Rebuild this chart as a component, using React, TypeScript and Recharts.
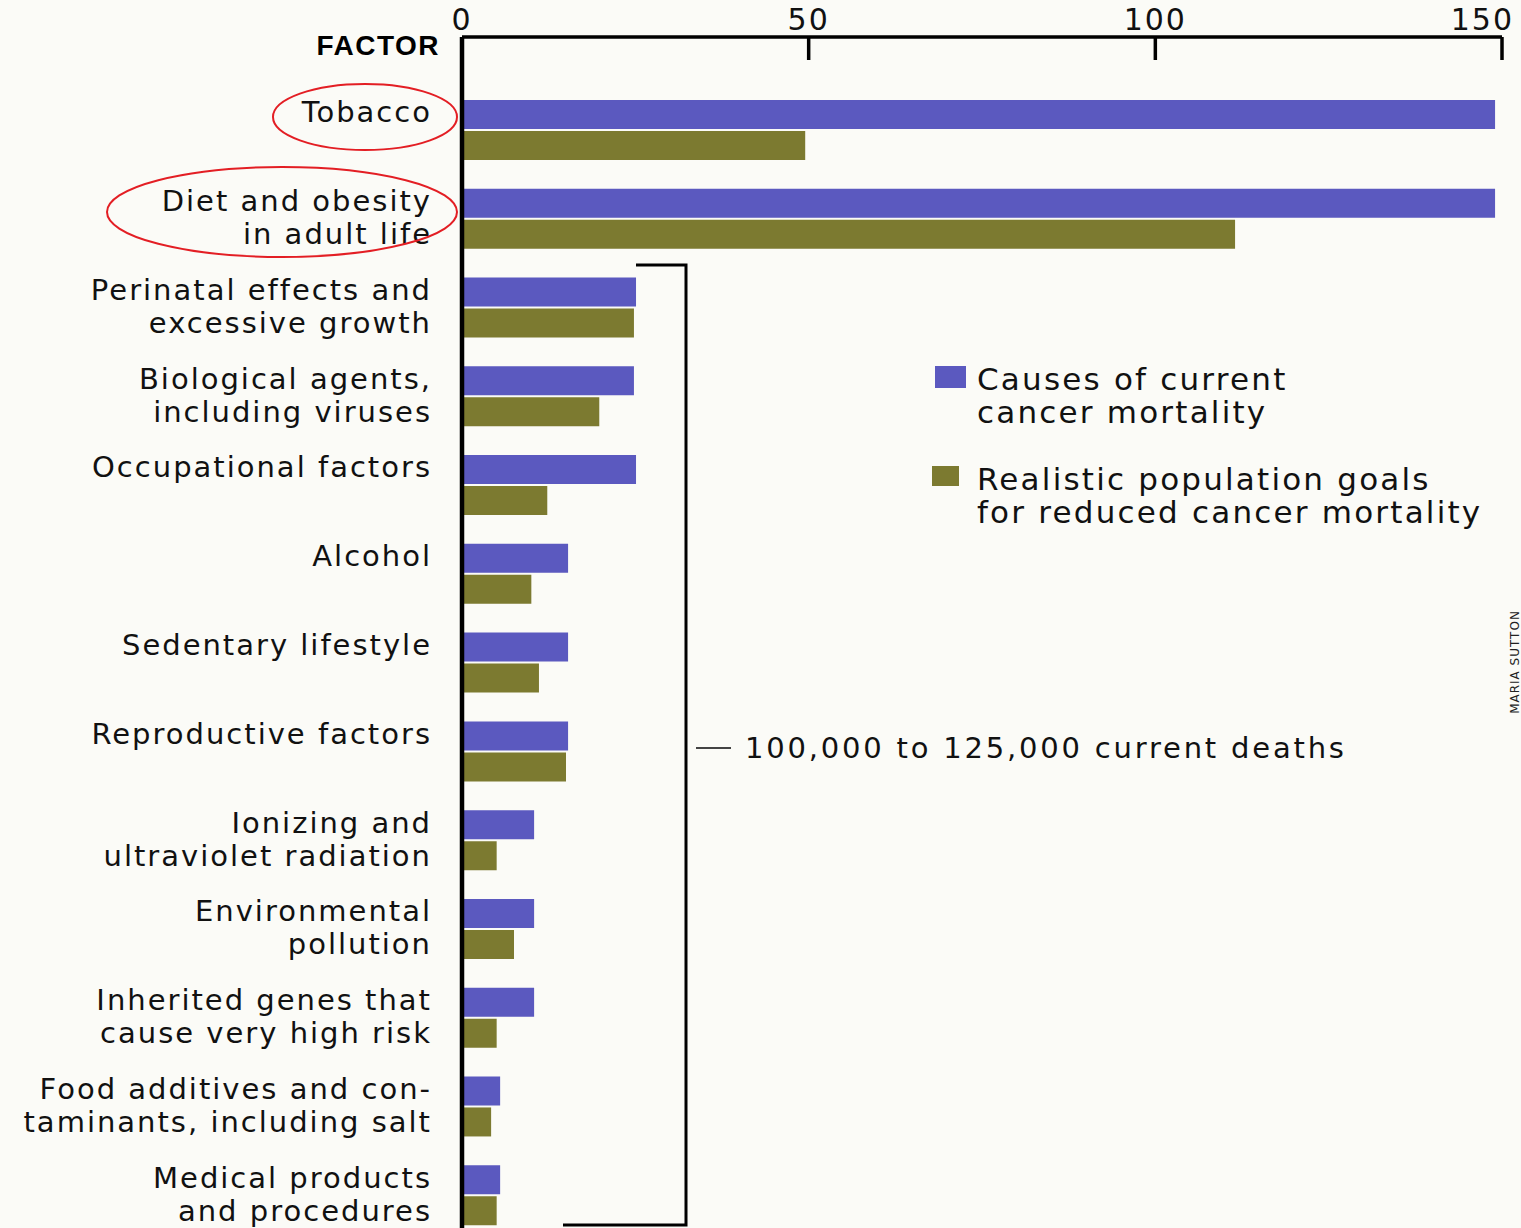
import React from "react";
import { BarChart, Bar, XAxis, YAxis, Legend } from "recharts";

// Factors, top to bottom. "\n" marks the line break used in the printed label.
const factors = [
  "Tobacco",
  "Diet and obesity\nin adult life",
  "Perinatal effects and\nexcessive growth",
  "Biological agents,\nincluding viruses",
  "Occupational factors",
  "Alcohol",
  "Sedentary lifestyle",
  "Reproductive factors",
  "Ionizing and\nultraviolet radiation",
  "Environmental\npollution",
  "Inherited genes that\ncause very high risk",
  "Food additives and con-\ntaminants, including salt",
  "Medical products\nand procedures",
];

// thousands of deaths
const currentMortality = [149, 149, 25.1, 24.8, 25.1, 15.3, 15.3, 15.3, 10.4, 10.4, 10.4, 5.5, 5.5];
const realisticGoals = [49.5, 111.5, 24.8, 19.8, 12.3, 10, 11.1, 15, 5, 7.5, 5, 4.2, 5];

const xTicks = [0, 50, 100, 150];

const legendItems = [
  { label: ["Causes of current", "cancer mortality"], color: "#5b59bf" },
  { label: ["Realistic population goals", "for reduced cancer mortality"], color: "#7c7a30" },
];

const data = factors.map((f, i) => ({
  factor: f,
  current: currentMortality[i],
  goal: realisticGoals[i],
}));

const FONT = "'DejaVu Sans', Verdana, sans-serif";

function FactorTick({ x, y, payload }: any) {
  const lines = String(payload.value).split("\n");
  return (
    <g>
      {lines.map((line, i) => (
        <text
          key={i}
          x={x}
          y={y - 8 + i * 33}
          textAnchor="end"
          fontFamily={FONT}
          fontSize={29}
          letterSpacing={2}
          fill="#111"
        >
          {line}
        </text>
      ))}
    </g>
  );
}

function ValueTick({ x, y, payload }: any) {
  const last = payload.value === 150;
  return (
    <text
      x={last ? x + 12 : x}
      y={y}
      textAnchor={last ? "end" : "middle"}
      fontFamily={FONT}
      fontSize={30}
      letterSpacing={2}
      fill="#111"
    >
      {payload.value}
    </text>
  );
}

function LegendBox() {
  return (
    <svg width={600} height={180} style={{ display: "block" }}>
      {legendItems.map((item, i) => (
        <g key={i} transform={`translate(0, ${i * 100})`}>
          <rect
            x={i === 0 ? 5 : 2}
            y={8}
            width={i === 0 ? 31 : 27}
            height={i === 0 ? 22 : 20}
            fill={item.color}
          />
          {item.label.map((line, j) => (
            <text
              key={j}
              x={47}
              y={32 + j * 33}
              fontFamily={FONT}
              fontSize={31}
              letterSpacing={2.2}
              fill="#111"
            >
              {line}
            </text>
          ))}
        </g>
      ))}
    </svg>
  );
}

export default function App() {
  return (
    <div
      style={{
        position: "absolute",
        left: 0,
        top: 0,
        width: 1521,
        height: 1228,
        overflow: "hidden",
        background: "#fbfbf7",
      }}
    >
      <BarChart
        width={1521}
        height={1240}
        data={data}
        layout="vertical"
        margin={{ top: 0, right: 19, left: 0, bottom: 0 }}
        barSize={29}
        barGap={2}
      >
        <XAxis
          type="number"
          orientation="top"
          domain={[0, 150]}
          ticks={xTicks}
          height={37}
          axisLine={{ stroke: "#000", strokeWidth: 3.5 }}
          tickLine={{ stroke: "#000", strokeWidth: 3.5 }}
          tickSize={-23}
          tickMargin={30}
          tick={<ValueTick />}
          interval={0}
        />
        <YAxis
          type="category"
          dataKey="factor"
          width={462}
          padding={{ top: 49, bottom: 0 }}
          axisLine={{ stroke: "#000", strokeWidth: 4.5 }}
          tickLine={false}
          tickSize={0}
          tickMargin={30}
          tick={<FactorTick />}
          interval={0}
        />
        <Legend
          layout="vertical"
          align="center"
          verticalAlign="middle"
          content={<LegendBox />}
          wrapperStyle={{ left: 930, top: 358, width: 600 }}
        />
        <Bar dataKey="current" fill="#5b59bf" isAnimationActive={false} />
        <Bar dataKey="goal" fill="#7c7a30" isAnimationActive={false} />
      </BarChart>

      <svg
        width={1521}
        height={1228}
        style={{ position: "absolute", left: 0, top: 0, pointerEvents: "none" }}
      >
        <text
          x={440}
          y={55}
          textAnchor="end"
          fontFamily="'Liberation Sans', Arial, sans-serif"
          fontWeight="bold"
          fontSize={28}
          letterSpacing={1.5}
          fill="#000"
        >
          FACTOR
        </text>
        <ellipse cx={365} cy={117} rx={92} ry={33} fill="none" stroke="#e31e24" strokeWidth={2} />
        <ellipse cx={282} cy={212} rx={175} ry={45} fill="none" stroke="#e31e24" strokeWidth={2} />
        <path d="M636 265 H686 V1225 H563" fill="none" stroke="#000" strokeWidth={3} />
        <line x1={696} y1={748} x2={731} y2={748} stroke="#444" strokeWidth={2} />
        <text x={745} y={758} fontFamily={FONT} fontSize={29} letterSpacing={2.8} fill="#111">
          100,000 to 125,000 current deaths
        </text>
        <text
          transform="translate(1519, 662) rotate(-90)"
          textAnchor="middle"
          fontFamily={FONT}
          fontSize={12}
          letterSpacing={1}
          fill="#222"
        >
          MARIA SUTTON
        </text>
      </svg>
    </div>
  );
}
